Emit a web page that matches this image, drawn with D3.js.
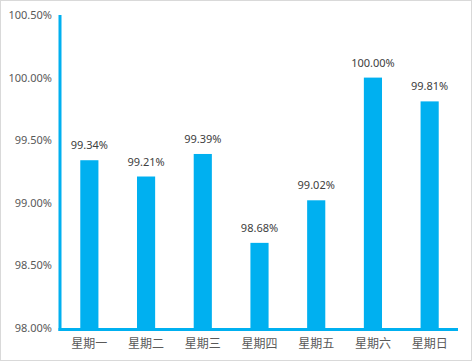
<!DOCTYPE html>
<html>
<head>
<meta charset="utf-8">
<script src="https://cdn.jsdelivr.net/npm/d3@7"></script>
<style>
  body { margin: 0; background: #fff; }
  text { font-family: "Noto Sans", "Noto Sans CJK SC", sans-serif; }
</style>
</head>
<body>
<div id="my_dataviz"></div>
<script>
// data
const days = ["星期一", "星期二", "星期三", "星期四", "星期五", "星期六", "星期日"];
const rates = [99.34, 99.21, 99.39, 98.68, 99.02, 100.00, 99.81];
const yTicks = [98.0, 98.5, 99.0, 99.5, 100.0, 100.5];

const W = 473, H = 362;
const margin = { top: 15, right: 15, bottom: 34, left: 61 };
const width = 458 - margin.left, height = 328 - margin.top;
const blue = "#00B0F0", grey = "#595959";

const root = d3.select("#my_dataviz").append("svg")
  .attr("width", W).attr("height", H);

// chart frame
root.append("rect")
  .attr("x", 0.5).attr("y", 0.5)
  .attr("width", 471).attr("height", 360)
  .attr("fill", "#fff").attr("stroke", "#d9d9d9");

const svg = root.append("g")
  .attr("transform", "translate(" + margin.left + "," + margin.top + ")");

const x = d3.scaleBand().domain(days).range([0, width]).paddingInner(0.68).paddingOuter(0.34);
const y = d3.scaleLinear().domain([98, 100.5]).range([height, 0]);

// y labels
const yAxis = svg.append("g")
  .call(d3.axisLeft(y).tickValues(yTicks).tickSize(0).tickPadding(9)
    .tickFormat(d => d3.format(".2f")(d) + "%"));
yAxis.select(".domain").remove();
yAxis.selectAll("text").attr("fill", grey).style("font-size", "11px");

// x labels
const xAxis = svg.append("g")
  .attr("transform", "translate(0," + height + ")")
  .call(d3.axisBottom(x).tickSize(0).tickPadding(11));
xAxis.select(".domain").remove();
xAxis.selectAll("text").attr("fill", grey)
  .style("font-size", "12px")
  .style("font-family", "'Noto Sans CJK SC', sans-serif");

// bars
svg.selectAll(".bar")
  .data(rates)
  .join("rect")
  .attr("class", "bar")
  .attr("x", (d, i) => x(days[i]))
  .attr("y", d => y(d))
  .attr("width", x.bandwidth())
  .attr("height", d => height - y(d))
  .attr("fill", blue);

// value labels
svg.selectAll(".lbl")
  .data(rates)
  .join("text")
  .attr("class", "lbl")
  .attr("x", (d, i) => x(days[i]) + x.bandwidth() / 2)
  .attr("y", d => y(d) - 11)
  .attr("text-anchor", "middle")
  .attr("fill", "#404040")
  .style("font-size", "11px")
  .text(d => d3.format(".2f")(d) + "%");

// axis lines
svg.append("line")
  .attr("x1", -1).attr("x2", -1)
  .attr("y1", 0).attr("y2", height + 3)
  .attr("stroke", blue).attr("stroke-width", 3);
svg.append("line")
  .attr("x1", -2.5).attr("x2", width)
  .attr("y1", height + 1.5).attr("y2", height + 1.5)
  .attr("stroke", blue).attr("stroke-width", 3);
</script>
</body>
</html>
